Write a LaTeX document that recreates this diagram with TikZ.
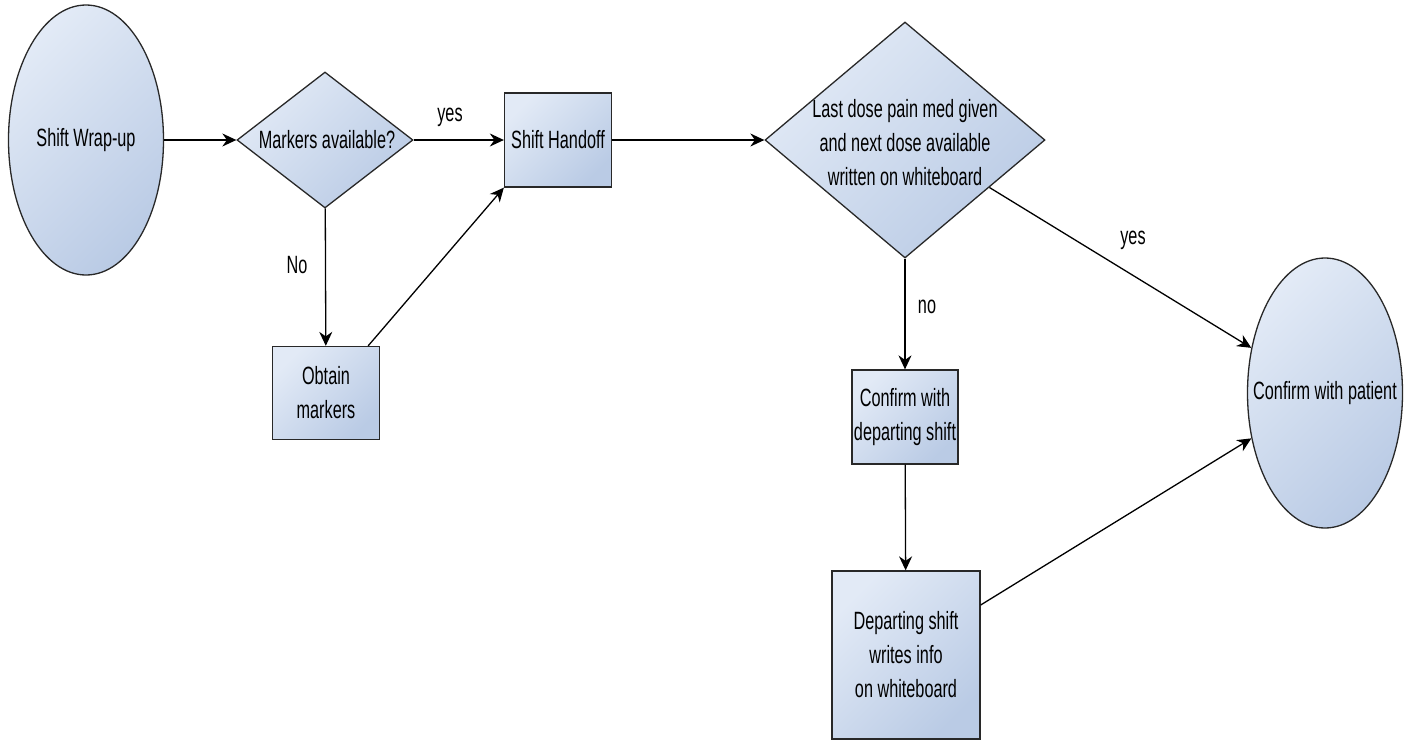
\documentclass[tikz,border=0pt]{standalone}
\usepackage{fontspec}
\setmainfont[FakeStretch=0.65]{Liberation Sans}
\usetikzlibrary{shapes.geometric,arrows.meta,calc}
\definecolor{fillA}{RGB}{226,234,246}
\definecolor{fillB}{RGB}{186,203,229}
\definecolor{edgegray}{RGB}{40,40,40}
\begin{document}
\begin{tikzpicture}[x=1pt,y=-1pt,
  every node/.style={font=\fontsize{25}{34}\selectfont},
  shaded/.style={draw=edgegray,line width=1.3pt,shading=axis,top color=fillA,bottom color=fillB,shading angle=45},
  termbox/.style={shaded,ellipse,minimum width=155pt,minimum height=270pt,inner sep=0pt},
  procbox/.style={shaded,rectangle,inner sep=0pt,align=center},
  decbox/.style={shaded,diamond,inner sep=0pt},
  flow/.style={draw=black,line width=1.3pt,-{Stealth[length=14pt,width=13pt]}},
  lbl/.style={inner sep=0pt,align=center}
]
\useasboundingbox (0,0) rectangle (1413,742);

% shapes; ellipse and diamond texts sit in their own nodes on top
\node[termbox] (wrap) at (86,140) {};
\node[lbl] (wrapt) at (86,140) {Shift Wrap-up};
\node[decbox,minimum width=176pt,minimum height=136pt] (mark) at (325,140) {};
\node[lbl] (markt) at (327,140) {Markers available?};
\node[procbox,minimum width=107pt,minimum height=94pt] (hand) at (558,140) {Shift Handoff};
\node[procbox,minimum width=107pt,minimum height=93pt] (obt) at (326,393) {Obtain\\markers};
\node[decbox,minimum width=280pt,minimum height=236pt] (dose) at (905,140) {};
\node[lbl] (doset) at (905,143) {Last dose pain med given\\and next dose available\\written on whiteboard};
\node[procbox,minimum width=106pt,minimum height=94pt] (conf) at (905,417) {Confirm with\\departing shift};
\node[procbox,minimum width=148pt,minimum height=168pt] (dep) at (906,655) {Departing shift\\writes info\\on whiteboard};
\node[termbox] (pat) at (1325,393) {};
\node[lbl] (patt) at (1325,393) {Confirm with patient};

% connectors
\draw[flow] (wrap) -- (mark);
\draw[flow] (mark) -- (hand);
\draw[flow] (mark) -- (obt);
\draw[flow] ([xshift=-12pt]obt.north east) -- (hand.south west);
\draw[flow] (hand) -- (dose);
\draw[flow] (dose) -- (conf);
\draw[flow] (conf) -- (dep);
\coordinate (dosecut) at ($(dose.east)!0.4!(dose.south)$);
\draw[flow] (dosecut) -- (pat);
\draw[flow] ([yshift=50pt]dep.east) -- (pat);

% branch labels
\node[lbl] (ly1) at (450,117) {yes};
\node[lbl] (ln1) at (297,265) {No};
\node[lbl] (ln2) at (927,307) {no};
\node[lbl] (ly2) at (1133,240) {yes};
\end{tikzpicture}
\end{document}
